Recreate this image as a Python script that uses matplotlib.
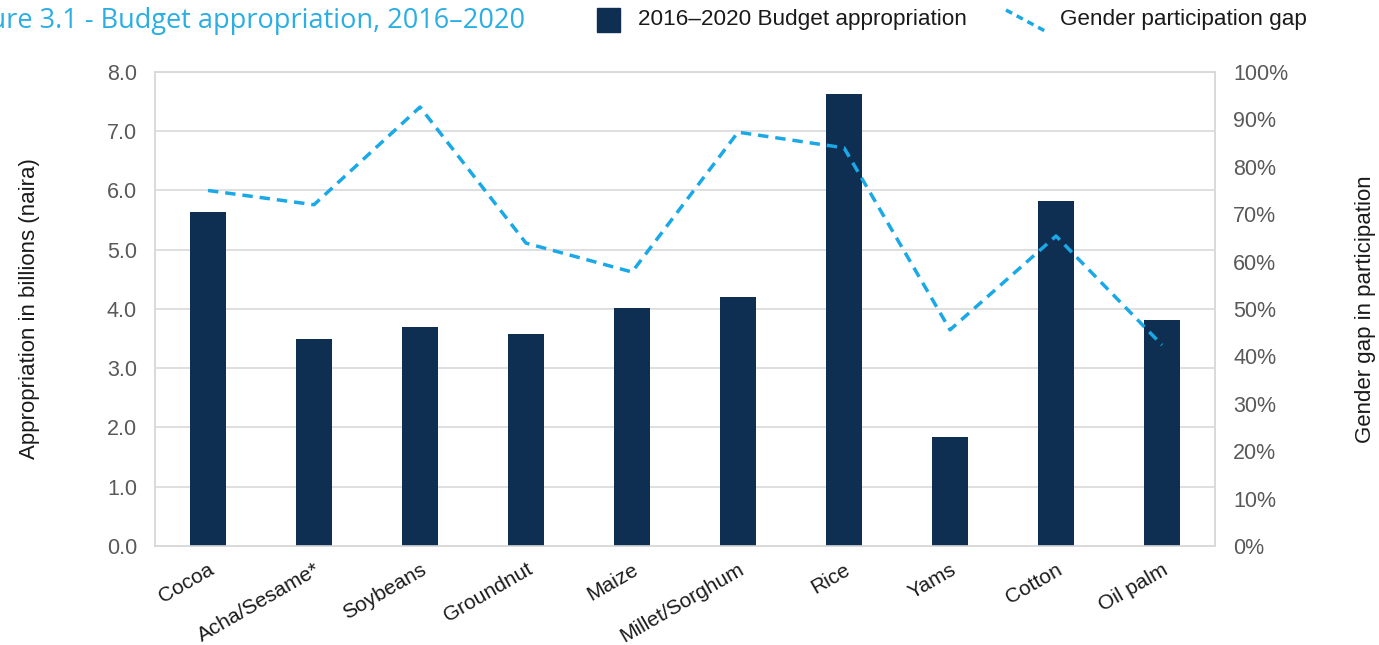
import numpy as np
import matplotlib.pyplot as plt
from matplotlib.lines import Line2D
from matplotlib.patches import Rectangle
from matplotlib.ticker import PercentFormatter

plt.rcParams['font.family'] = ['Liberation Sans', 'DejaVu Sans']

crops = ['Cocoa', 'Acha/Sesame*', 'Soybeans', 'Groundnut', 'Maize',
         'Millet/Sorghum', 'Rice', 'Yams', 'Cotton', 'Oil palm']
budget = [5.64, 3.50, 3.70, 3.57, 4.01, 4.20, 7.63, 1.84, 5.83, 3.82]   # billions of naira
gap_pct = [75.0, 72.0, 92.6, 63.9, 57.8, 87.3, 84.0, 45.6, 65.4, 42.4]

NAVY = '#0f2f52'
CYAN = '#1aa9e6'
GRID = '#d9d9d9'
TICK = '#595959'

fig = plt.figure(figsize=(13.79, 6.45), dpi=100)
ax = fig.add_axes([0.1124, 0.1535, 0.7687, 0.7349])
ax2 = ax.twinx()

x = np.arange(len(crops))
ax.bar(x, budget, width=0.34, color=NAVY, zorder=3)
ax2.plot(x, gap_pct, color=CYAN, lw=2.5, ls=(0, (3, 2)), zorder=4)

ax.set_xlim(-0.5, len(crops) - 0.5)
ax.set_ylim(0, 8)
ax.set_yticks(np.arange(0, 8.1, 1.0))
ax.set_yticklabels([f'{v:.1f}' for v in np.arange(0, 8.1, 1.0)])
ax2.set_ylim(0, 100)
ax2.set_yticks(np.arange(0, 101, 10))
ax2.yaxis.set_major_formatter(PercentFormatter(decimals=0))

ax.yaxis.grid(True, color=GRID, lw=1.2, zorder=0)
ax.set_axisbelow(True)
for a in (ax, ax2):
    for s in a.spines.values():
        s.set_color(GRID)
        s.set_linewidth(1.2)
    a.tick_params(length=0, labelsize=15.5, labelcolor=TICK)
ax.tick_params(axis='y', pad=13)
ax2.tick_params(axis='y', pad=13)

ax.set_xticks(x)
ax.set_xticklabels(crops, rotation=30, ha='right', rotation_mode='anchor',
                   fontsize=15, color='#1a1a1a')
ax.tick_params(axis='x', pad=10)

ax.set_ylabel('Appropriation in billions (naira)', fontsize=16, color='#1a1a1a',
              labelpad=48)
ax2.set_ylabel('Gender gap in participation', fontsize=16, color='#1a1a1a',
               labelpad=48)

# title runs off the left edge of the page
fig.text(525 / 1379, 1 - 21 / 645, 'Figure 3.1 - Budget appropriation, 2016\u20132020',
         ha='right', va='center', fontsize=19.5, color='#2aaee4', family='Open Sans')

# legend drawn by hand: square swatch and a slanted dashed stroke
fig.patches.append(Rectangle((597 / 1379, 1 - 32 / 645), 23 / 1379, 24 / 645,
                             transform=fig.transFigure, color=NAVY))
fig.text(638 / 1379, 1 - 20 / 645, '2016\u20132020 Budget appropriation',
         ha='left', va='center', fontsize=16.2, color='#1a1a1a')
fig.lines.append(Line2D([1006 / 1379, 1045 / 1379], [1 - 10 / 645, 1 - 31 / 645],
                        transform=fig.transFigure, color=CYAN, lw=2.5,
                        ls=(0, (2, 1.5))))
fig.text(1060 / 1379, 1 - 20 / 645, 'Gender participation gap',
         ha='left', va='center', fontsize=16.2, color='#1a1a1a')

fig.savefig('out.png', dpi=100)
